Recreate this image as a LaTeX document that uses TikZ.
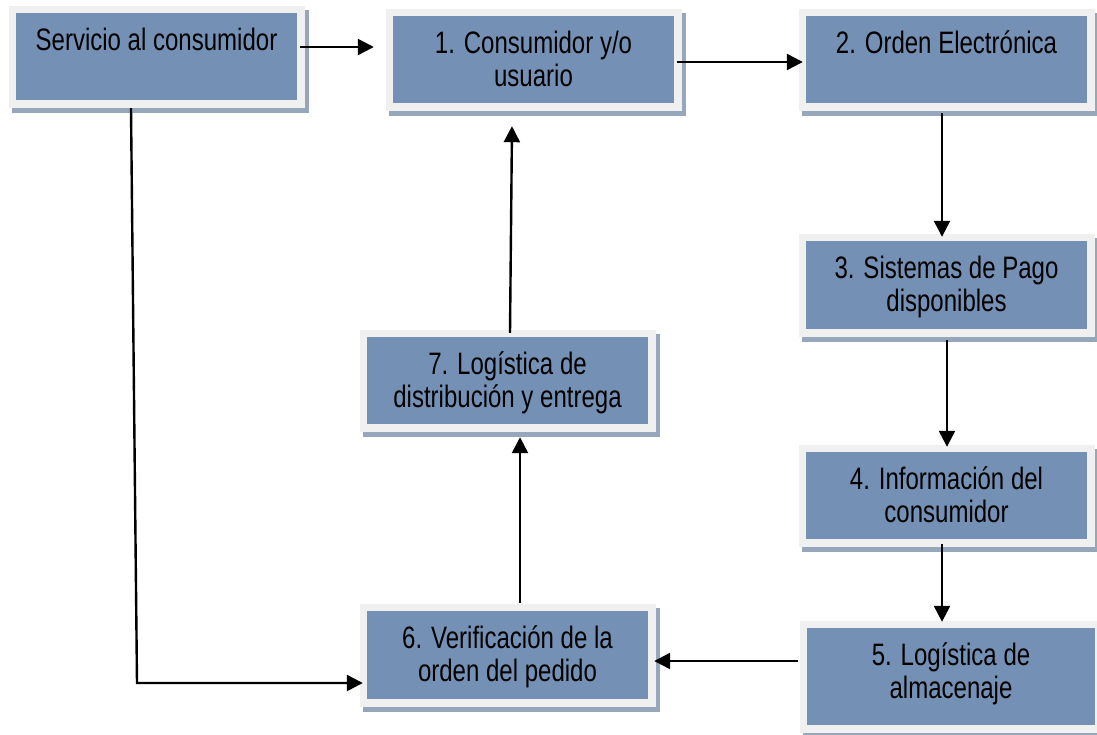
\documentclass[tikz,border=0pt]{standalone}
\usepackage{fontspec}
\setmainfont{Liberation Sans}[FakeStretch=0.775]
\usetikzlibrary{arrows.meta,calc,backgrounds}
\definecolor{boxblue}{RGB}{116,145,181}
\definecolor{framegray}{RGB}{240,240,240}
\definecolor{shadowc}{RGB}{150,166,187}
\begin{document}
\begin{tikzpicture}[x=1pt,y=-1pt,
  box/.style={rectangle, fill=boxblue, inner sep=0pt, minimum width=281pt, minimum height=87pt,
    preaction={draw=framegray, line width=15pt}},
  txt/.style={font=\fontsize{31}{33}\selectfont, align=center, inner sep=0pt, anchor=north},
  arr/.style={line width=2.4pt, -{Triangle[length=16pt,width=16pt]}}]
\useasboundingbox (0,0) rectangle (1097,734);
\clip (0,0) rectangle (1097,734);
% boxes
\node[box] (S) at (156.5,56.5) {};
\node[box] (n1) at (533.5,59.5) {};
\node[box] (n2) at (946.5,59.5) {};
\node[box, minimum height=88pt] (n3) at (946.5,285) {};
\node[box] (n4) at (946.5,495.5) {};
\node[box, minimum width=288pt, minimum height=97pt] (n5) at (951,676.5) {};
\node[box] (n7) at (507.5,380.5) {};
\node[box, minimum height=88pt] (n6) at (507.5,655) {};
% shadows
\begin{scope}[on background layer]
\foreach \n in {S,n1,n2,n3,n4,n5,n6,n7}{
  \fill[shadowc] ($(\n.north west)+(-3.5,-2.5)$) rectangle ($(\n.south east)+(11.5,13)$);
}
\end{scope}
% texts
\node[txt] (tS) at ($(S.north)+(0,14.4)$) {\strut Servicio al consumidor};
\node[txt] (t1) at ($(n1.north)+(0,14.4)$) {\strut 1. Consumidor y/o\\\strut usuario};
\node[txt] (t2) at ($(n2.north)+(0,14.4)$) {\strut 2. Orden Electrónica};
\node[txt] (t3) at ($(n3.north)+(0,14.4)$) {\strut 3. Sistemas de Pago\\\strut disponibles};
\node[txt] (t4) at ($(n4.north)+(0,14.4)$) {\strut 4. Información del\\\strut consumidor};
\node[txt] (t5) at ($(n5.north)+(0,14.4)$) {\strut 5. Logística de\\\strut almacenaje};
\node[txt] (t7) at ($(n7.north)+(0,14.4)$) {\strut 7. Logística de\\\strut distribución y entrega};
\node[txt] (t6) at ($(n6.north)+(0,14.4)$) {\strut 6. Verificación de la\\\strut orden del pedido};
% connectors
\coordinate (c6) at (137,683);
\draw[arr] ($(S.east)+(3,-9.5)$) -- ($(n1.west)+(-19,-12.5)$);
\draw[arr] ($(n1.east)+(3,2.5)$) -- ($(n2.west)+(-3,2.5)$);
\draw[arr] ($(n2.south)+(-4.5,10)$) -- ($(n3.north)+(-4.5,-4)$);
\draw[arr] ($(n3.south)+(0.5,11)$) -- ($(n4.north)+(0.5,-5)$);
\draw[arr] ($(n4.south)+(-4.5,5)$) -- ($(n5.north)+(-9,-6)$);
\draw[arr] ($(n5.west)+(-9,-15.5)$) -- ($(n6.east)+(6,6)$);
\draw[arr] ($(n6.north)+(12.5,-8)$) -- ($(n7.south)+(12.5,13)$);
\draw[arr] ($(n7.north)+(2.5,-4)$) -- ($(n1.south)+(-21.5,23)$);
\draw[arr] ($(S.south)+(-25.5,8)$) -- (c6) -- ($(n6.west)+(-4,28)$);
\end{tikzpicture}
\end{document}
